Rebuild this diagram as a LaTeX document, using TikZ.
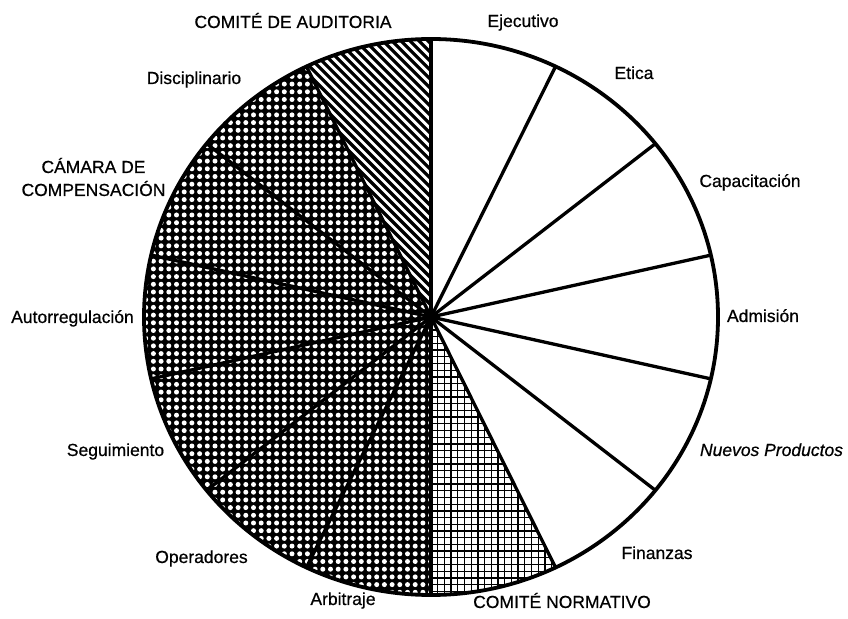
\documentclass[tikz,border=0pt]{standalone}
\usepackage{fontspec}
\setmainfont{Liberation Sans}
\newfontfamily\lblfont{Liberation Sans}[FakeBold=0.6]
\begin{document}
\begin{tikzpicture}[x=1pt,y=1pt,
  lbl/.style={font=\lblfont\fontsize{17.5}{20}\selectfont, inner sep=0pt, anchor=base},
  spoke/.style={line width=3.3pt},
  rim/.style={line width=3.8pt},
  hatchline/.style={line width=3.2pt},
  gridline/.style={line width=1.3pt}]
\useasboundingbox[fill=white] (0,0) rectangle (848,618);
\def\ang{25.7142857}
\coordinate (C) at (431,301);
% hatched sector (Comite de auditoria)
\begin{scope}
  \clip (C) -- +(90:287 and 278) arc[start angle=90, end angle=115.7142857, x radius=287, y radius=278] -- cycle;
  \foreach \k in {600,609,...,1020} \draw[hatchline] (\k-620,620) -- (\k-280,280);
\end{scope}
% dotted sectors
\begin{scope}
  \clip (C) -- +(115.7142857:287 and 278) arc[start angle=115.7142857, end angle=270, x radius=287, y radius=278] -- cycle;
  \fill[black] (130,10) rectangle (440,600);
  \foreach \j in {0,...,75} {
    \foreach \i in {0,...,39} \fill[white] (138+\i*7.7,18+\j*7.7) circle (2.5);
  }
\end{scope}
% grid sector (Comite normativo)
\begin{scope}
  \clip (C) -- +(270:287 and 278) arc[start angle=270, end angle=295.7142857, x radius=287, y radius=278] -- cycle;
  \begin{scope}[shift={(431,20)}]
    \draw[gridline, step=6.7] (0,0) grid (140,290);
  \end{scope}
\end{scope}
% spokes
\foreach \i in {0,...,13} \draw[spoke] (C) -- +(90-\i*\ang:287 and 278);
\draw[rim] (C) ellipse [x radius=287, y radius=278];
\fill (C) circle (7);
% labels
\node[lbl] (audit) at (293,590) {COMITÉ DE AUDITORIA};
\node[lbl] (ejec) at (523,591) {Ejecutivo};
\node[lbl] (etica) at (634,539) {Etica};
\node[lbl] (capac) at (750,431) {Capacitación};
\node[lbl] (admis) at (763,296) {Admisión};
\node[lbl] (nuevos) at (771.5,162) {\itshape Nuevos Productos};
\node[lbl] (finan) at (657,59) {Finanzas};
\node[lbl] (norm) at (562,10) {COMITÉ NORMATIVO};
\node[lbl] (arbit) at (343,13) {Arbitraje};
\node[lbl] (oper) at (201.5,55) {Operadores};
\node[lbl] (segui) at (115.5,162) {Seguimiento};
\node[lbl] (autor) at (72.5,295) {Autorregulación};
\node[lbl] (camara1) at (93.5,445) {CÁMARA DE};
\node[lbl] (camara2) at (93.5,422) {COMPENSACIÓN};
\node[lbl] (discip) at (194,534) {Disciplinario};
\end{tikzpicture}
\end{document}
